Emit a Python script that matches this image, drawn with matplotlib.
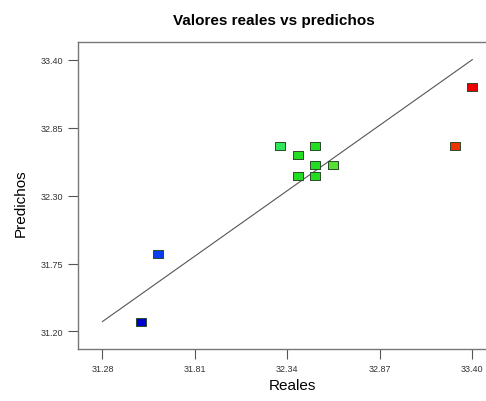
import matplotlib
matplotlib.use('Agg')
import matplotlib.pyplot as plt
import numpy as np

plt.rcParams['font.family'] = ['Liberation Sans', 'DejaVu Sans']

# valores reales vs predichos
reales = [31.50, 31.60, 32.30, 32.50, 32.40, 32.50, 32.60, 32.40, 32.50, 33.30, 33.40]
predichos = [31.28, 31.83, 32.70, 32.70, 32.63, 32.55, 32.55, 32.46, 32.46, 32.70, 33.18]
colores = ['#0000cc', '#0a3cf0', '#2ee65a', '#22dd22', '#22dd22', '#22dd22', '#55e033',
           '#22dd22', '#22dd22', '#ee3300', '#ee0000']

ticks_x = [31.28, 31.81, 32.34, 32.87, 33.40]
ticks_y = [31.20, 31.75, 32.30, 32.85, 33.40]
linea = [31.28, 33.40]

figure = plt.figure(figsize=(4.86, 4.02), dpi=100)
axes = figure.add_axes([78 / 486, 1 - 350 / 402, 410 / 486, 307 / 402])

axes.plot(linea, linea, color='#555555', lw=0.8, zorder=1)

rect = [(-1.35, -1), (1.35, -1), (1.35, 1), (-1.35, 1), (-1.35, -1)]
for xr, yp, c in zip(reales, predichos, colores):
    axes.plot(xr, yp, marker=rect, ms=7.5, mfc=c, mec='#2a4a2a', mew=0.7, ls='none', zorder=2)

axes.set_xlim(31.14, 33.49)
axes.set_ylim(31.058, 33.543)
axes.set_xticks(ticks_x)
axes.set_xticklabels(['%.2f' % t for t in ticks_x])
axes.set_yticks(ticks_y)
axes.set_yticklabels(['%.2f' % t for t in ticks_y])
axes.tick_params(labelsize=6.5, length=7, width=0.8, color='#555555', labelcolor='#333333', pad=4)

for s in axes.spines.values():
    s.set_color('#777777')
    s.set_linewidth(1.0)

axes.set_title('Valores reales vs predichos', fontsize=11, fontweight='bold', pad=13, x=0.477)
axes.set_xlabel('Reales', fontsize=11)
axes.xaxis.set_label_coords(0.522, -0.095)
axes.set_ylabel('Predichos', fontsize=11)
axes.yaxis.set_label_coords(-0.122, 0.479)

figure.savefig('out.png', dpi=100)
